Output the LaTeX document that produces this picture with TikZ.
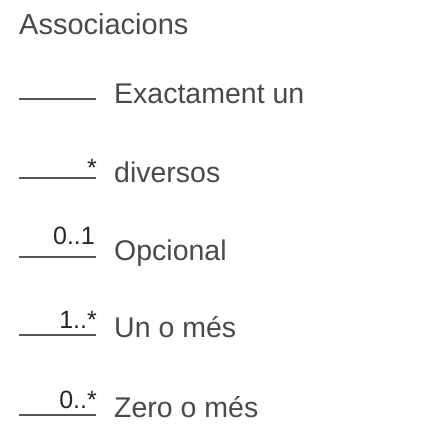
\documentclass[tikz,border=0pt]{standalone}
\usepackage{fontspec}
\setmainfont{Liberation Sans}
\usepackage{tikz}
\usetikzlibrary{positioning,calc}

\definecolor{textgray}{HTML}{4A4A4A}
\definecolor{linegray}{HTML}{555555}

\tikzset{
  assocline/.style={draw=linegray, line width=2.4pt},
  kindtext/.style={anchor=base west, inner sep=0pt, text=textgray, font=\fontsize{28.5}{30}\selectfont},
  multlabel/.style={anchor=base east, inner sep=0pt, text=black!85, font=\fontsize{25}{27}\selectfont},
}

\begin{document}
\begin{tikzpicture}[x=1pt, y=-1pt]
    \useasboundingbox (0,0) rectangle (428,440);

    % Title
    \node[kindtext, font=\fontsize{29}{31}\selectfont] (title) at (19,34) {Associacions};

    % Exactly one
    \coordinate (l1a) at (19,99);
    \coordinate (l1b) at (96,99);
    \draw[assocline] (l1a) -- (l1b);
    \node[kindtext] (exact) at (114,103) {Exactament un};

    % Many
    \coordinate (l2a) at (19,178);
    \coordinate (l2b) at (96,178);
    \draw[assocline] (l2a) -- (l2b);
    \node[multlabel] (many) at ($(l2b)+(1,-2)$) {*};
    \node[kindtext] (diverse) at (114,182) {diversos};

    % Optional
    \coordinate (l3a) at (19,257);
    \coordinate (l3b) at (96,257);
    \draw[assocline] (l3a) -- (l3b);
    \node[multlabel] (zeroone) at ($(l3b)+(-1,-13)$) {0..1};
    \node[kindtext] (optional) at (114,260) {Opcional};

    % One or more
    \coordinate (l4a) at (19,335);
    \coordinate (l4b) at (96,335);
    \draw[assocline] (l4a) -- (l4b);
    \node[multlabel] (onemany) at ($(l4b)+(1,-7)$) {1..*};
    \node[kindtext] (onemore) at (114,337) {Un o més};

    % Zero or more
    \coordinate (l5a) at (19,415);
    \coordinate (l5b) at (96,415);
    \draw[assocline] (l5a) -- (l5b);
    \node[multlabel] (zeromany) at ($(l5b)+(1,-7)$) {0..*};
    \node[kindtext] (zeromore) at (114,417) {Zero o més};
\end{tikzpicture}
\end{document}
